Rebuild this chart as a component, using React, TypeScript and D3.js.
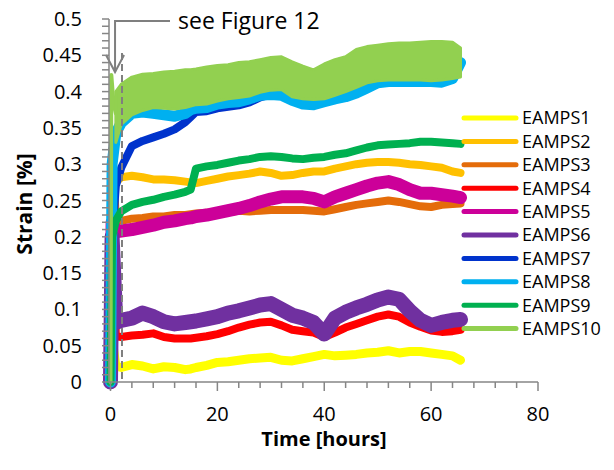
import React from 'react';
import * as d3 from 'd3';

// ---------- data ----------
const T = [0, 0.3, 1, 2, 4, 6, 8, 10, 12, 14, 15, 16, 18, 20, 22, 24, 26, 28, 30, 32, 34, 36, 38, 40, 42, 44, 46, 48, 50, 52, 54, 56, 58, 60, 62, 64, 65.5];

const EAMPS1 = [0, 0.06, 0.022, 0.02, 0.024, 0.022, 0.018, 0.021, 0.02, 0.017, 0.018, 0.02, 0.023, 0.027, 0.028, 0.03, 0.032, 0.033, 0.034, 0.03, 0.029, 0.032, 0.035, 0.038, 0.036, 0.037, 0.038, 0.04, 0.041, 0.043, 0.04, 0.042, 0.042, 0.04, 0.038, 0.036, 0.03];
const EAMPS2 = [0, 0.25, 0.275, 0.282, 0.284, 0.282, 0.279, 0.279, 0.278, 0.276, 0.275, 0.274, 0.277, 0.28, 0.283, 0.285, 0.287, 0.29, 0.288, 0.284, 0.285, 0.288, 0.29, 0.29, 0.294, 0.297, 0.3, 0.302, 0.303, 0.303, 0.302, 0.3, 0.299, 0.297, 0.295, 0.29, 0.288];
const EAMPS3 = [0, 0.32, 0.225, 0.222, 0.225, 0.226, 0.228, 0.228, 0.23, 0.23, 0.231, 0.232, 0.233, 0.233, 0.234, 0.236, 0.235, 0.236, 0.237, 0.237, 0.237, 0.237, 0.236, 0.235, 0.238, 0.241, 0.244, 0.246, 0.248, 0.25, 0.248, 0.245, 0.242, 0.241, 0.244, 0.245, 0.246];
const EAMPS4 = [0, 0.25, 0.063, 0.062, 0.064, 0.065, 0.067, 0.062, 0.06, 0.06, 0.06, 0.061, 0.063, 0.066, 0.07, 0.075, 0.079, 0.082, 0.083, 0.078, 0.072, 0.07, 0.068, 0.062, 0.068, 0.075, 0.08, 0.085, 0.09, 0.093, 0.09, 0.082, 0.076, 0.071, 0.069, 0.07, 0.072];
const EAMPS5 = [0, 0.22, 0.207, 0.208, 0.21, 0.213, 0.216, 0.22, 0.222, 0.225, 0.226, 0.228, 0.23, 0.233, 0.236, 0.239, 0.243, 0.248, 0.252, 0.255, 0.255, 0.255, 0.253, 0.248, 0.255, 0.26, 0.265, 0.27, 0.274, 0.276, 0.272, 0.265, 0.26, 0.26, 0.258, 0.256, 0.254];
const EAMPS6 = [0, 0.2, 0.082, 0.085, 0.088, 0.095, 0.09, 0.083, 0.08, 0.082, 0.083, 0.084, 0.087, 0.09, 0.095, 0.098, 0.102, 0.106, 0.108, 0.1, 0.092, 0.088, 0.082, 0.066, 0.088, 0.096, 0.102, 0.107, 0.113, 0.117, 0.114, 0.098, 0.085, 0.078, 0.082, 0.085, 0.086];
const EAMPS7 = [0, 0.2, 0.27, 0.295, 0.325, 0.332, 0.337, 0.342, 0.348, 0.358, 0.365, 0.372, 0.373, 0.377, 0.379, 0.381, 0.385, 0.392, 0.396, 0.395, 0.388, 0.383, 0.382, 0.386, 0.39, 0.393, 0.398, 0.405, 0.412, 0.414, 0.414, 0.414, 0.414, 0.414, 0.413, 0.418, 0.44];
const EAMPS8 = [0, 0.3, 0.343, 0.357, 0.37, 0.372, 0.37, 0.368, 0.366, 0.37, 0.375, 0.377, 0.378, 0.383, 0.385, 0.386, 0.39, 0.395, 0.396, 0.395, 0.388, 0.383, 0.382, 0.386, 0.39, 0.393, 0.398, 0.405, 0.412, 0.414, 0.414, 0.414, 0.414, 0.414, 0.413, 0.418, 0.44];
const EAMPS9 = [0, 0.2, 0.222, 0.235, 0.244, 0.248, 0.251, 0.255, 0.258, 0.262, 0.265, 0.294, 0.297, 0.299, 0.302, 0.305, 0.307, 0.31, 0.311, 0.31, 0.308, 0.307, 0.309, 0.31, 0.313, 0.315, 0.319, 0.323, 0.326, 0.327, 0.328, 0.329, 0.331, 0.331, 0.33, 0.329, 0.328];

// EAMPS10 is a very noisy trace: its upper and lower envelope
const T10 = [1, 2, 4, 6, 8, 10, 12, 14, 15, 16, 18, 20, 22, 24, 26, 28, 30, 32, 34, 36, 38, 40, 42, 44, 46, 48, 50, 52, 54, 56, 58, 60, 62, 64, 65.5];
const EAMPS10_HI = [0.40, 0.41, 0.42, 0.424, 0.425, 0.427, 0.428, 0.43, 0.43, 0.431, 0.434, 0.436, 0.437, 0.44, 0.441, 0.444, 0.447, 0.448, 0.441, 0.435, 0.43, 0.438, 0.444, 0.448, 0.458, 0.462, 0.464, 0.466, 0.467, 0.467, 0.468, 0.469, 0.469, 0.468, 0.46];
const EAMPS10_LO = [0.33, 0.355, 0.368, 0.374, 0.378, 0.377, 0.376, 0.378, 0.38, 0.382, 0.383, 0.387, 0.39, 0.392, 0.394, 0.399, 0.402, 0.403, 0.393, 0.39, 0.389, 0.39, 0.395, 0.40, 0.406, 0.412, 0.415, 0.416, 0.416, 0.416, 0.416, 0.415, 0.416, 0.418, 0.42];
const T10_START = [0, 0.15, 0.5, 1];
const EAMPS10_START = [0, 0.423, 0.39, 0.37];

const SERIES_NAMES = ['EAMPS1', 'EAMPS2', 'EAMPS3', 'EAMPS4', 'EAMPS5', 'EAMPS6', 'EAMPS7', 'EAMPS8', 'EAMPS9', 'EAMPS10'];
const SERIES_VALUES = [EAMPS1, EAMPS2, EAMPS3, EAMPS4, EAMPS5, EAMPS6, EAMPS7, EAMPS8, EAMPS9];

const Y_TICKS = [0, 0.05, 0.1, 0.15, 0.2, 0.25, 0.3, 0.35, 0.4, 0.45, 0.5];
const Y_TICK_LABELS = ['0', '0.05', '0.1', '0.15', '0.2', '0.25', '0.3', '0.35', '0.4', '0.45', '0.5'];
const X_TICKS = [0, 20, 40, 60, 80];
const X_TICK_LABELS = ['0', '20', '40', '60', '80'];

const ANNOTATION_TEXT = 'see Figure 12';
const ARROW_T = 0.85;
const MARKER_T = 2.15;

// ---------- styles ----------
const COLORS = ['#FFFF00', '#FFC000', '#E46C0A', '#FF0000', '#CC0099', '#7030A0', '#0033CC', '#00B0F0', '#00B050', '#92D050'];
const STROKES = [9, 8, 8, 8, 13, 15, 8, 11, 8, 4];
const FONT = "'Open Sans', 'Liberation Sans', sans-serif";
const GREY = '#868686';

export default function App() {
  const W = 614, H = 470;
  const x = d3.scaleLinear().domain([0, 80]).range([110.5, 538]);
  const y = d3.scaleLinear().domain([0, 0.5]).range([382, 19]);

  const lineFor = (ts: number[]) =>
    d3.line<number>().x((_, i) => x(ts[i])).y((d) => y(d));

  const area10 = d3.area<number>()
    .x((_, i) => x(T10[i]))
    .y0((_, i) => y(EAMPS10_LO[i]))
    .y1((d) => y(d));

  const yMinor = d3.range(0, 0.5001, 0.01);
  const xMinor = d3.range(0, 80.001, 4);

  const axisLeft = 109;
  const axisBottom = y(0);

  const legendX = 462, legendY0 = 118, legendDy = 23.4;

  const arrowX = x(ARROW_T);
  const markX = x(MARKER_T);

  return (
    <svg width={W} height={H} viewBox={`0 0 ${W} ${H}`}
      style={{ position: 'absolute', left: 0, top: 0, background: '#fff' }}
      fontFamily={FONT}>
      <rect x={0} y={0} width={W} height={H} fill="#fff" />

      {/* series */}
      <g fill="none" strokeLinejoin="round" strokeLinecap="round">
        {SERIES_VALUES.map((vals, k) => (
          <path key={k} d={lineFor(T)(vals) || ''} stroke={COLORS[k]} strokeWidth={STROKES[k]} />
        ))}
        <path d={lineFor(T10_START)(EAMPS10_START) || ''} stroke={COLORS[9]} strokeWidth={STROKES[9]} />
        <path d={area10(EAMPS10_HI) || ''} fill={COLORS[9]} stroke={COLORS[9]} strokeWidth={3} />
      </g>

      {/* dashed marker and annotation arrow */}
      <line x1={markX} x2={markX} y1={53} y2={axisBottom} stroke="#7f7f7f" strokeWidth={2} strokeDasharray="7,4" />
      <polyline points={`170,21 ${arrowX},21 ${arrowX},72`} fill="none" stroke="#7f7f7f" strokeWidth={2} />
      <polyline points={`${arrowX - 9},55 ${arrowX},72 ${arrowX + 9},55`} fill="none" stroke="#7f7f7f" strokeWidth={2} />
      <text x={178} y={29} fontSize={23} fill="#000">{ANNOTATION_TEXT}</text>

      {/* y axis */}
      <g stroke={GREY} strokeWidth={1.5}>
        <line x1={axisLeft} x2={axisLeft} y1={y(0.5)} y2={axisBottom} />
        {yMinor.map((v, i) => (
          <line key={i} x1={axisLeft - 7} x2={axisLeft} y1={y(v)} y2={y(v)} />
        ))}
      </g>
      {Y_TICKS.map((v, i) => (
        <text key={i} x={82} y={y(v)} dy="0.35em" textAnchor="end" fontSize={20} fill="#000">{Y_TICK_LABELS[i]}</text>
      ))}

      {/* x axis */}
      <g stroke={GREY} strokeWidth={1.5}>
        <line x1={axisLeft} x2={x(80)} y1={axisBottom} y2={axisBottom} />
        {xMinor.map((t, i) => (
          <line key={i} x1={x(t)} x2={x(t)} y1={axisBottom} y2={axisBottom + (t % 20 === 0 ? 9 : 6)} />
        ))}
      </g>
      {X_TICKS.map((t, i) => (
        <text key={i} x={x(t)} y={421} textAnchor="middle" fontSize={20} fill="#000">{X_TICK_LABELS[i]}</text>
      ))}

      {/* axis titles */}
      <text x={324} y={446} textAnchor="middle" fontSize={20} fontWeight="bold" fill="#000">Time [hours]</text>
      <text transform="translate(32,204) rotate(-90)" textAnchor="middle" fontSize={21} fontWeight="bold" fill="#000">Strain [%]</text>

      {/* legend */}
      {SERIES_NAMES.map((name, k) => {
        const ly = legendY0 + k * legendDy;
        return (
          <g key={name}>
            <line x1={legendX + 2} x2={legendX + 54} y1={ly} y2={ly} stroke={COLORS[k]} strokeWidth={5} strokeLinecap="round" />
            <text x={522} y={ly} dy="0.36em" fontSize={18} fill="#000">{name}</text>
          </g>
        );
      })}
    </svg>
  );
}
